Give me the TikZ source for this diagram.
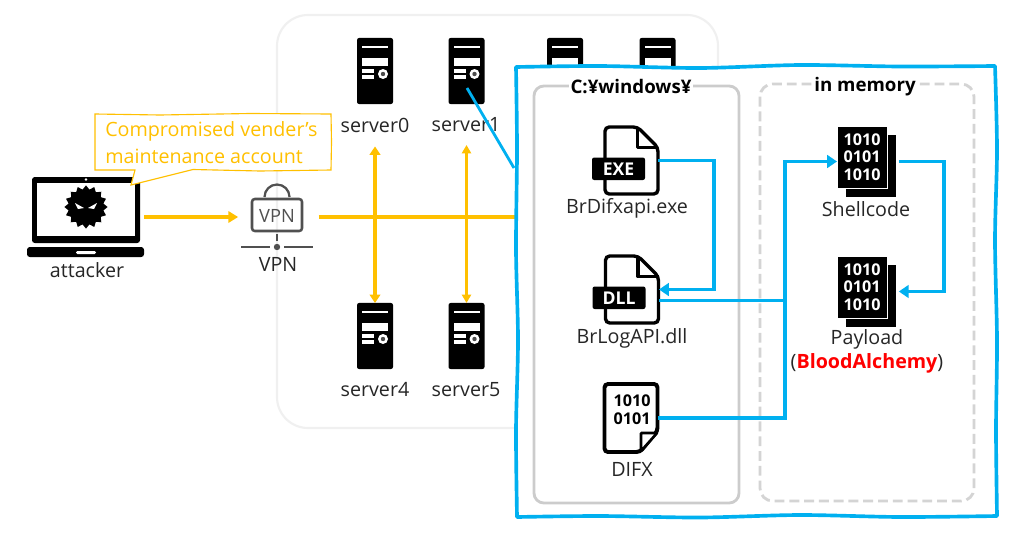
\documentclass[tikz,border=0pt]{standalone}
\usepackage{fontspec}
\setmainfont{Open Sans}
\usetikzlibrary{arrows.meta,shapes.geometric}
\definecolor{ylw}{HTML}{FFC000}
\definecolor{blu}{HTML}{00B0F0}
\definecolor{txt}{HTML}{262626}
\definecolor{vpngray}{HTML}{505050}
\tikzset{
  yline/.style={draw=ylw,line width=2.6pt},
  bline/.style={draw=blu,line width=2.6pt},
  ytip/.style={-{Triangle[length=7pt,width=8pt]}},
  btip/.style={-{Triangle[length=7pt,width=9pt]}},
  lbl/.style={text=txt,font=\fontsize{14pt}{16pt}\selectfont,inner sep=0pt},
  ttl/.style={fill=white,font=\fontsize{13.3pt}{15pt}\selectfont\bfseries,inner sep=1pt},
  bin/.style={font=\fontsize{11.5pt}{12.6pt}\selectfont\bfseries,align=center,inner sep=0pt},
  tagtxt/.style={text=white,font=\fontsize{12.5pt}{14pt}\selectfont\bfseries,inner sep=0pt},
  iconbox/.style={inner sep=0pt,outer sep=0pt},
  srvbody/.style={iconbox,fill=black,rounded corners=1.5pt,minimum width=0.9cm,minimum height=1.65cm},
  pics/srvface/.style={code={
    \fill[white] (-13,23.5) rectangle (13,25);
    \fill[white] (-13,5) rectangle (13,13);
    \fill[white] (-13,-2) rectangle (-1,2);
    \fill[white] (-13,-8) rectangle (-1,-4);
    \fill[white] (8,-3) circle (5);
    \fill[black!70] (8,-3) circle (2.2);
  }},
  pics/fileicon/.style={code={
    \draw[black,fill=white,line width=2.4pt,rounded corners=3pt] (-26.5,-33.5) -- (-26.5,33.5) -- (6,33.5) -- (26.5,13) -- (26.5,-33.5) -- cycle;
    \draw[black,line width=2.4pt,line join=round] (6,33.5) -- (6,13) -- (26.5,13);
    \fill[black,rounded corners=1.5pt] (-39.5,3) rectangle (13.5,-19.5);
    \node[tagtxt] (-tag) at (-13,-8.5) {#1};
  }},
  pics/binstack/.style={code={
    \fill[black] (-20.5,26.5) rectangle (29.5,-35.5);
    \fill[black,draw=white,line width=0.5pt] (-29.5,35.5) rectangle (20.5,-26.5);
    \node[bin,text=white] (-txt) at (-4.5,4.5) {1010\\0101\\1010};
  }}
}
\begin{document}
\begin{tikzpicture}[x=0.025cm,y=0.025cm]
\useasboundingbox (0,0) rectangle (1024,-539);
\fill[white] (0,0) rectangle (1024,-539);
% server room
\draw[black!6,line width=1.5pt,rounded corners=22pt] (277,-15) rectangle (718,-428);
\node[srvbody] (server0) at (375,-71) {};
\pic at (server0) {srvface};
\node[srvbody] (server1) at (466.5,-71) {};
\pic at (server1) {srvface};
\node[srvbody] (server2) at (565,-71) {};
\pic at (server2) {srvface};
\node[srvbody] (server3) at (657.5,-71) {};
\pic at (server3) {srvface};
\node[srvbody] (server4) at (375,-336) {};
\pic at (server4) {srvface};
\node[srvbody] (server5) at (466.5,-336) {};
\pic at (server5) {srvface};
\node[lbl] (lbl0) at (375,-125) {server0};
\node[lbl] (lbl1) at (466,-125) {server1};
\node[lbl] (lbl4) at (375,-390) {server4};
\node[lbl] (lbl5) at (466,-390) {server5};
% attacker
\node[iconbox,minimum width=2.925cm,minimum height=2cm] (attacker) at (85.5,-217) {};
\fill[black,rounded corners=2pt] (32,-177) rectangle (140,-243);
\fill[white] (37,-183) rectangle (135,-236);
\fill[white] (86,-179.5) circle (1.3);
\fill[black,rounded corners=2pt] (27,-247) rectangle (144,-257);
\fill[white,rounded corners=1pt] (76,-251) rectangle (96,-254);
\node[iconbox,star,star points=16,star point ratio=1.22,fill=black,minimum size=1.08cm] (blob) at (86,-207) {};
\fill[white] (75,-203) -- (84,-208) -- (78,-209) -- cycle;
\fill[white] (97,-203) -- (88,-208) -- (94,-209) -- cycle;
\node[lbl] (attackerlbl) at (87,-270) {attacker};
% vpn
\node[iconbox,minimum width=1.8cm,minimum height=1.5cm] (vpn) at (277,-217) {};
\draw[vpngray,line width=1.6pt] (264.5,-197) arc (180:0:12.5);
\draw[vpngray,line width=1.8pt,rounded corners=2pt] (252,-199) rectangle (302,-231);
\node[text=vpngray,font=\fontsize{13pt}{15pt}\selectfont,inner sep=0pt] (vpntxt) at (277,-216) {VPN};
\draw[vpngray,line width=1.3pt] (277,-234) -- (277,-241);
\draw[vpngray,line width=1.3pt] (241,-247) -- (270,-247) (284,-247) -- (313,-247);
\fill[vpngray] (277,-247) circle (3.2);
\node[lbl] (vpnlbl) at (278,-264) {VPN};
% yellow paths
\coordinate (boxedge) at (520,-217);
\draw[yline,ytip,shorten >=2pt] (attacker.east) -- (vpn.west);
\draw[yline,shorten <=4pt] (vpn.east) -- (boxedge);
\draw[yline,{Triangle[length=6pt,width=7.5pt]}-{Triangle[length=6pt,width=7.5pt]},shorten <=1pt] (lbl0.south |- 0,-145) -- (server4.north);
\draw[yline,line width=1.8pt,{Triangle[length=6pt,width=6.5pt]}-{Triangle[length=6pt,width=6.5pt]}] (server5.north |- 0,-145) -- (server5.north);
% callout
\draw[ylw,fill=white,line width=0.8pt] (95,-114) -- (160,-115) -- (250,-113.5) -- (331,-114) -- (331.5,-142) -- (331,-170) -- (260,-171) -- (193,-169.5) -- (131,-185) -- (135,-170) -- (95,-170) -- cycle;
\node[text=ylw,font=\fontsize{14pt}{19pt}\selectfont,align=left,inner sep=0pt,anchor=west] (calltxt) at (105,-142.5) {Compromised vender’s\\maintenance account};
% target host
\draw[bline,fill=white,line join=round]
  plot[smooth] coordinates {(516,-67) (600,-66) (700,-68) (800,-65) (900,-66.5) (995,-66)}
  -- plot[smooth] coordinates {(995,-66) (997,-150) (995,-240) (997,-340) (996,-430) (997,-516)}
  -- plot[smooth] coordinates {(997,-516) (900,-517) (800,-515) (700,-517.5) (600,-516) (517,-517)}
  -- plot[smooth] coordinates {(517,-517) (516,-430) (518,-340) (516,-250) (517,-150) (516,-67)} -- cycle;
\coordinate (hostedge) at (514,-168);
\coordinate (srvpoint) at (467,-88);
\draw[bline,line width=2pt] (srvpoint) -- (hostedge);
\draw[black!20,line width=2pt,rounded corners=7pt] (534,-86) rectangle (739,-503);
\draw[black!17,line width=2pt,dashed,dash pattern=on 7pt off 3.5pt,rounded corners=9pt] (760,-84) rectangle (974,-501);
\node[ttl] (wintitle) at (631,-87) {C:¥windows¥};
\node[ttl] (memtitle) at (865,-87) {in memory};
% files
\node[iconbox,minimum width=1.325cm,minimum height=1.675cm] (exe) at (631.5,-160.5) {};
\pic (exefile) at (exe) {fileicon=EXE};
\node[iconbox,minimum width=1.35cm,minimum height=1.675cm] (dll) at (632,-289.5) {};
\pic (dllfile) at (dll) {fileicon=DLL};
\node[iconbox,minimum width=1.35cm,minimum height=1.75cm] (difx) at (631,-418) {};
\draw[black,fill=white,line width=2.8pt,rounded corners=2.5pt] (604.5,-384) -- (657.5,-384) -- (657.5,-431) -- (640,-452) -- (604.5,-452) -- cycle;
\draw[black,fill=white,line width=1.8pt,line join=round] (641,-451) -- (641,-433) -- (657,-433) -- cycle;
\node[bin,text=black] (difxtxt) at (632,-410) {1010\\0101};
\node[lbl] (exelbl) at (627,-208) {BrDifxapi.exe};
\node[lbl] (dlllbl) at (632,-338) {BrLogAPI.dll};
\node[lbl] (difxlbl) at (632,-469) {DIFX};
% memory
\node[iconbox,minimum width=1.475cm,minimum height=1.775cm] (shell) at (866.5,-161.5) {};
\pic (shellstack) at (shell) {binstack};
\node[iconbox,minimum width=1.475cm,minimum height=1.775cm] (payload) at (866.5,-291.5) {};
\pic (paystack) at (payload) {binstack};
\node[lbl] (shelllbl) at (866,-209) {Shellcode};
\node[lbl] (paylbl) at (867,-339) {Payload};
\node[lbl] (bloodlbl) at (867,-363) {(\textcolor{red}{\textbf{BloodAlchemy}})};
% blue paths
\draw[bline,btip,line join=miter] (exe.east) -- ++(56,0) |- (dll.east);
\draw[bline] ([yshift=-0.275cm]dll.east) -- ++(126,0) coordinate (busjoin);
\draw[bline,btip] (difx.east) -| (busjoin) |- (shell.west);
\draw[bline,btip,shorten <=2pt,shorten >=2pt] (shell.east) -- ++(48,0) |- (payload.east);
\end{tikzpicture}
\end{document}
